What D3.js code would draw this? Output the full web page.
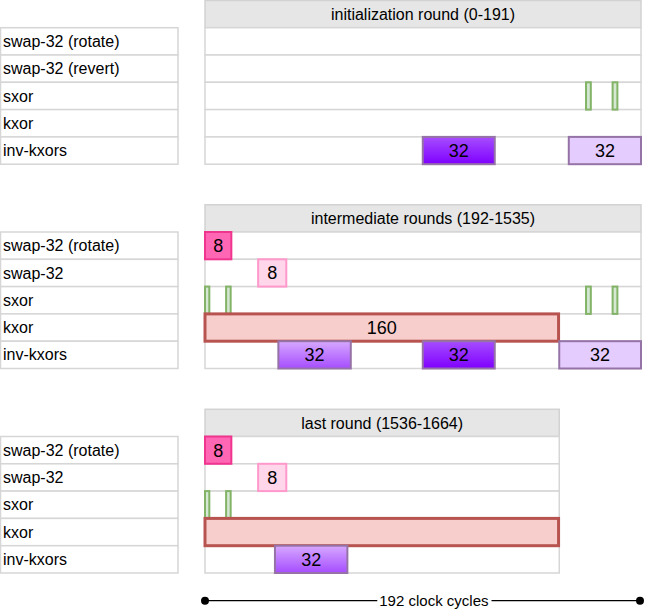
<!DOCTYPE html>
<html><head><meta charset="utf-8">
<script src="https://cdn.jsdelivr.net/npm/d3@7"></script>
<style>html,body{margin:0;padding:0;background:#fff;}svg{display:block;font-family:"Liberation Sans",Arial,Helvetica,sans-serif;}</style>
</head><body>
<script>
// ---- data ----
const panelTitles = ["initialization round (0-191)", "intermediate rounds (192-1535)", "last round (1536-1664)"];
const panelEnds = [192, 192, 156];
const rowsInit = ["swap-32 (rotate)", "swap-32 (revert)", "sxor", "kxor", "inv-kxors"];
const rowsMid = ["swap-32 (rotate)", "swap-32", "sxor", "kxor", "inv-kxors"];
const rowsLast = ["swap-32 (rotate)", "swap-32", "sxor", "kxor", "inv-kxors"];
// bars: [row, startCycle, endCycle, label, kind]
const barsInit = [
  ["sxor", 167.8, 169.9, "", "sxor"],
  ["sxor", 179.5, 181.6, "", "sxor"],
  ["inv-kxors", 95.9, 127.6, "32", "invDark"],
  ["inv-kxors", 160.2, 192, "32", "invLight"]
];
const barsMid = [
  ["swap-32 (rotate)", 0, 11.6, "8", "rotate"],
  ["swap-32", 23.4, 35.8, "8", "swap"],
  ["sxor", 0, 1.9, "", "sxor"],
  ["sxor", 9.3, 11.3, "", "sxor"],
  ["sxor", 167.8, 169.9, "", "sxor"],
  ["sxor", 179.5, 181.6, "", "sxor"],
  ["kxor", 0, 155.7, "160", "kxor"],
  ["inv-kxors", 32.3, 64.2, "32", "invMid"],
  ["inv-kxors", 95.9, 127.6, "32", "invDark"],
  ["inv-kxors", 156, 192, "32", "invLight"]
];
const barsLast = [
  ["swap-32 (rotate)", 0, 11.6, "8", "rotate"],
  ["swap-32", 23.4, 35.8, "8", "swap"],
  ["sxor", 0, 1.9, "", "sxor"],
  ["sxor", 9.3, 11.3, "", "sxor"],
  ["kxor", 0, 155.7, "", "kxor"],
  ["inv-kxors", 30.8, 62.7, "32", "invMid"]
];
const axisSpan = [0, 192];
const axisLabelAt = 100.8;
const axisLabel = "192 clock cycles";

// ---- styles ----
const kindStyle = {
  rotate:  {fill: "#ff66b3", stroke: "#f0358f", sw: 2},
  swap:    {fill: "#ffd6ea", stroke: "#ff99cc", sw: 2},
  sxor:    {fill: "#d5e8d4", stroke: "#82b366", sw: 2},
  kxor:    {fill: "#f8cecc", stroke: "#b85450", sw: 3},
  invMid:  {fill: "url(#gMid)", stroke: "#9673a6", sw: 2},
  invDark: {fill: "url(#gDark)", stroke: "#9673a6", sw: 2},
  invLight:{fill: "#e5ccff", stroke: "#9673a6", sw: 2}
};

const W = 646, H = 611;
const svg = d3.select("body").append("svg").attr("width", W).attr("height", H);
const defs = svg.append("defs");
function grad(id, a, b) {
  const g = defs.append("linearGradient").attr("id", id).attr("x1", 0).attr("y1", 0).attr("x2", 0).attr("y2", 1);
  g.append("stop").attr("offset", "0%").attr("stop-color", a);
  g.append("stop").attr("offset", "100%").attr("stop-color", b);
}
grad("gMid", "#d6a8ff", "#a64dff");
grad("gDark", "#a64dff", "#7f00ff");

const x = d3.scaleLinear().domain([0, 192]).range([205, 641]);
const labelX0 = 0.5, labelX1 = 178;
const panelTops = [0.5, 204.8, 409.3];
const headerH = 27.2, rowH = 27.3;
const panels = [
  {title: panelTitles[0], end: panelEnds[0], rows: rowsInit, bars: barsInit},
  {title: panelTitles[1], end: panelEnds[1], rows: rowsMid, bars: barsMid},
  {title: panelTitles[2], end: panelEnds[2], rows: rowsLast, bars: barsLast}
];

panels.forEach((p, i) => {
  const top = panelTops[i];
  const g = svg.append("g");
  const y = d3.scaleBand().domain(p.rows).range([top + headerH, top + headerH + rowH * p.rows.length]).padding(0);
  g.append("rect").attr("x", x(0)).attr("y", top).attr("width", x(p.end) - x(0)).attr("height", headerH)
    .attr("fill", "#e6e6e6").attr("stroke", "#d2d2d2").attr("stroke-width", 1.5);
  g.append("text").attr("x", (x(0) + x(p.end)) / 2).attr("y", top + headerH / 2).attr("dy", "0.35em")
    .attr("text-anchor", "middle").attr("font-size", 16).attr("fill", "#000").text(p.title);
  p.rows.forEach(r => {
    g.append("rect").attr("x", labelX0).attr("y", y(r)).attr("width", labelX1 - labelX0).attr("height", y.bandwidth())
      .attr("fill", "#fff").attr("stroke", "#d6d6d6").attr("stroke-width", 1.5);
    g.append("text").attr("x", 3).attr("y", y(r) + y.bandwidth() / 2).attr("dy", "0.35em")
      .attr("font-size", 16).attr("fill", "#000").text(r);
    g.append("rect").attr("x", x(0)).attr("y", y(r)).attr("width", x(p.end) - x(0)).attr("height", y.bandwidth())
      .attr("fill", "#fff").attr("stroke", "#d6d6d6").attr("stroke-width", 1.5);
  });
  p.bars.forEach(b => {
    const s = kindStyle[b[4]];
    g.append("rect").attr("x", x(b[1])).attr("y", y(b[0])).attr("width", x(b[2]) - x(b[1])).attr("height", y.bandwidth())
      .attr("fill", s.fill).attr("stroke", s.stroke).attr("stroke-width", s.sw);
    if (b[3]) {
      g.append("text").attr("x", (x(b[1]) + x(b[2])) / 2).attr("y", y(b[0]) + y.bandwidth() / 2).attr("dy", "0.36em")
        .attr("text-anchor", "middle").attr("font-size", 18).attr("fill", "#000").text(b[3]);
    }
  });
});

// bottom span axis
const ay = 600.7;
const ax0 = x(axisSpan[0]), ax1 = x(axisSpan[1]) - 1;
const axisG = svg.append("g");
const lbl = axisG.append("text").attr("x", x(axisLabelAt)).attr("y", ay).attr("dy", "0.35em").attr("text-anchor", "middle")
  .attr("font-size", 15).attr("fill", "#000").text(axisLabel);
const bb = lbl.node().getBBox();
axisG.append("line").attr("x1", ax0).attr("x2", bb.x - 2).attr("y1", ay).attr("y2", ay).attr("stroke", "#000").attr("stroke-width", 1.3);
axisG.append("line").attr("x1", bb.x + bb.width + 3).attr("x2", ax1).attr("y1", ay).attr("y2", ay).attr("stroke", "#000").attr("stroke-width", 1.3);
axisG.append("circle").attr("cx", ax0).attr("cy", ay).attr("r", 4).attr("fill", "#000");
axisG.append("circle").attr("cx", ax1).attr("cy", ay).attr("r", 4).attr("fill", "#000");
</script>
</body></html>
